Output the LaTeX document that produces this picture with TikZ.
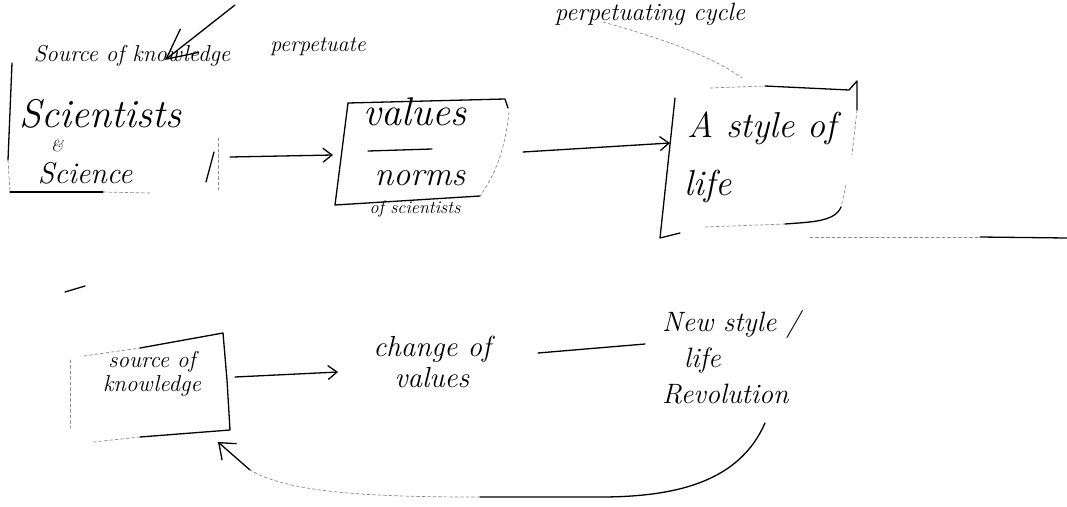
\documentclass[tikz,border=0pt]{standalone}
\usetikzlibrary{arrows.meta}
\begin{document}
\begin{tikzpicture}[x=1pt,y=-1pt,
  ink/.style={line width=1.3pt, line cap=round, line join=round},
  faint/.style={line width=0.7pt, black!45, dash pattern=on 3pt off 2.5pt, line cap=round},
  arr/.style={ink, -{Straight Barb[length=9pt,width=14pt]}},
  hw/.style={inner sep=0pt, align=center},
  fs/.style 2 args={font=\fontsize{#1}{#2}\selectfont\itshape}]
\useasboundingbox (0,0) rectangle (1067,506);
% ---------- top row ----------
\node[hw, fs={23}{26}] (srcTop) at (132,56) {Source of knowledge};
\node[hw, fs={40}{44}] (sci) at (100,114) {Scientists};
\node[hw, fs={16}{18}] (amp) at (57,146) {\&};
\node[hw, fs={30}{34}] (scie) at (85,173) {Science};
\node[hw, fs={22}{25}] (perp) at (318,47) {perpetuate};
\node[hw, fs={25}{28}] (cycle) at (650,14) {perpetuating cycle};
% arrow to Source of knowledge
\coordinate (topTail) at (235,5);
\coordinate (srcTip) at (165,60);
\draw[ink, -{Straight Barb[length=30pt,width=30pt]}] (topTail) -- (srcTip);
% Scientists box
\draw[ink] (12,63) -- (8,160);
\draw[faint] (8,160) -- (10,192);
\draw[ink] (10,192) -- (103,192);
\draw[faint] (103,192) -- (150,193);
\draw[faint] (218,138) -- (218,190);
\draw[ink] (206,182) -- (214,152);
% values box
\node[hw, fs={40}{44}] (val) at (415,112) {values};
\draw[ink] (368,151) -- (432,149);
\node[hw, fs={34}{38}] (norms) at (420,178) {norms};
\node[hw, fs={18}{20}] (ofsci) at (415,209) {of scientists};
\draw[ink] (348,103) -- (505,99) -- (508,108);
\draw[ink] (348,103) -- (335,205) -- (480,196);
\draw[faint] (509,112) .. controls (505,150) and (495,175) .. (480,196);
% A style of life box
\node[hw, fs={36}{40}] (sty) at (762,128) {A style of};
\node[hw, fs={36}{40}] (life) at (708,186) {life};
\draw[ink] (675,98) -- (660,238) -- (680,233);
\draw[faint] (710,88) -- (765,86);
\draw[ink] (765,86) -- (849,90) -- (857,81) -- (857,110);
\draw[faint] (857,110) -- (852,155);
\draw[faint] (846,185) -- (841,207);
\draw[ink] (841,207) .. controls (835,222) and (810,222) .. (785,224);
\draw[faint] (785,224) -- (705,227);
\draw[faint] (810,237) -- (980,237);
\draw[ink] (980,237) -- (1067,238);
\draw[faint] (603,22) .. controls (660,38) and (710,55) .. (742,78);
% top arrows
\coordinate (sciR) at (230,157);
\coordinate (valL) at (333,155);
\coordinate (valR) at (523,152);
\coordinate (styL) at (670,143);
\draw[arr] (sciR) -- (valL);
\draw[arr] (valR) -- (styL);
% ---------- bottom row ----------
\draw[ink] (65,292) -- (85,286);
\node[hw, fs={23}{24}] (src2) at (152,374) {source of\\knowledge};
\draw[faint] (70,360) -- (70,428);
\draw[faint] (84,356) -- (140,348);
\draw[ink] (140,348) -- (223,333) -- (227,380) -- (230,430) -- (140,437);
\draw[faint] (140,437) -- (93,442);
\node[hw, fs={29}{31}] (chg) at (432,362) {change of\\values};
\coordinate (srcR) at (235,377);
\coordinate (chgL) at (338,372);
\draw[arr] (srcR) -- (chgL);
\coordinate (chgR) at (538,353);
\coordinate (newL) at (645,344);
\draw[ink] (chgR) -- (newL);
\node[hw, fs={28}{36}, align=left, anchor=north west] (new) at (662,310) {New style /\\\hspace*{22pt}life\\Revolution};
% return arrow
\coordinate (r1) at (765,423);
\coordinate (r2) at (480,497);
\coordinate (r3) at (250,470);
\coordinate (srcB) at (218,442);
\draw[ink] (r1) .. controls (740,480) and (680,497) .. (600,497) -- (r2);
\draw[faint] (r2) .. controls (380,497) and (290,494) .. (r3);
\draw[ink, -{Straight Barb[length=14pt,width=22pt]}] (r3) -- (srcB);
\end{tikzpicture}
\end{document}
